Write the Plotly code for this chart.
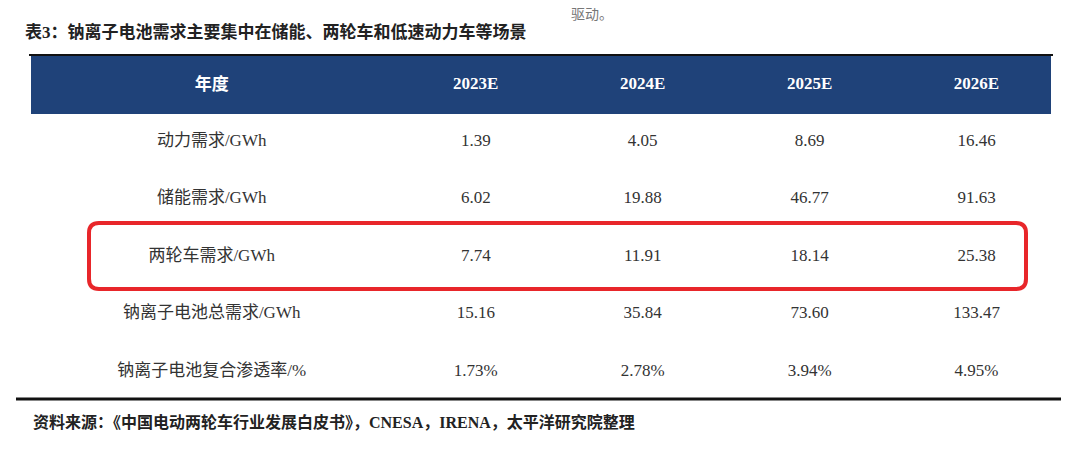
import plotly.graph_objects as go

# page has an 8px body margin, so lay out in a slightly smaller box
OFF = 7
W, H = 1080 - OFF - 1, 451 - OFF - 1

header = ["年度", "2023E", "2024E", "2025E", "2026E"]
row_labels = ["动力需求/GWh", "储能需求/GWh", "两轮车需求/GWh", "钠离子电池总需求/GWh", "钠离子电池复合渗透率/%"]
v2023 = ["1.39", "6.02", "7.74", "15.16", "1.73%"]
v2024 = ["4.05", "19.88", "11.91", "35.84", "2.78%"]
v2025 = ["8.69", "46.77", "18.14", "73.60", "3.94%"]
v2026 = ["16.46", "91.63", "25.38", "133.47", "4.95%"]

NAVY = "#1f4279"
SERIF = "Liberation Serif, Noto Sans CJK SC"
CLEAR = "rgba(0,0,0,0)"


def px_x(v):
    return (v - OFF) / W


def px_y(v):
    return 1 - (v - OFF) / H


fig = go.Figure(go.Table(
    domain=dict(x=[px_x(30), px_x(1059.5)], y=[px_y(413), px_y(65)]),
    columnwidth=[361.5, 167, 167, 167, 167],
    header=dict(
        values=["<b>%s</b>" % h for h in header],
        fill_color=CLEAR, line_color=CLEAR, height=59,
        font=dict(color="white", size=17, family=SERIF),
        align="center",
    ),
    cells=dict(
        values=[row_labels, v2023, v2024, v2025, v2026],
        fill_color=CLEAR, line_color=CLEAR, height=57.5,
        font=dict(color="#333333", size=17, family=SERIF),
        align="center",
    ),
))

# navy header band
fig.add_shape(type="rect", xref="paper", yref="paper", layer="below",
              x0=px_x(30), x1=px_x(1050), y0=px_y(113), y1=px_y(55),
              fillcolor=NAVY, line=dict(width=0))
# top and bottom rules
fig.add_shape(type="line", xref="paper", yref="paper", x0=px_x(28), x1=px_x(1052),
              y0=px_y(54), y1=px_y(54), line=dict(color="#111111", width=2))
fig.add_shape(type="line", xref="paper", yref="paper", x0=px_x(15), x1=px_x(1060),
              y0=px_y(398), y1=px_y(398), line=dict(color="#111111", width=3))

# red highlight around the two-wheeler row
x0, x1, y0, y1, r = 88, 1025, 222, 288, 10
path = (f"M {px_x(x0 + r)} {px_y(y0)} L {px_x(x1 - r)} {px_y(y0)} "
        f"Q {px_x(x1)} {px_y(y0)} {px_x(x1)} {px_y(y0 + r)} L {px_x(x1)} {px_y(y1 - r)} "
        f"Q {px_x(x1)} {px_y(y1)} {px_x(x1 - r)} {px_y(y1)} L {px_x(x0 + r)} {px_y(y1)} "
        f"Q {px_x(x0)} {px_y(y1)} {px_x(x0)} {px_y(y1 - r)} L {px_x(x0)} {px_y(y0 + r)} "
        f"Q {px_x(x0)} {px_y(y0)} {px_x(x0 + r)} {px_y(y0)} Z")
fig.add_shape(type="path", xref="paper", yref="paper", path=path,
              line=dict(color="#e8262a", width=4))

fig.add_annotation(text="<b>表3：钠离子电池需求主要集中在储能、两轮车和低速动力车等场景</b>",
                   x=px_x(22), y=px_y(31), xref="paper", yref="paper",
                   xanchor="left", yanchor="middle", showarrow=False,
                   font=dict(size=17, color="#222222", family=SERIF))
fig.add_annotation(text="驱动。", x=px_x(568), y=px_y(14), xref="paper", yref="paper",
                   xanchor="left", yanchor="middle", showarrow=False,
                   font=dict(size=14, color="#777777", family=SERIF))
fig.add_annotation(text="<b>资料来源：《中国电动两轮车行业发展白皮书》，CNESA，IRENA，太平洋研究院整理</b>",
                   x=px_x(30), y=px_y(421), xref="paper", yref="paper",
                   xanchor="left", yanchor="middle", showarrow=False,
                   font=dict(size=16, color="#222222", family=SERIF))

fig.update_layout(width=W, height=H, margin=dict(l=0, r=0, t=0, b=0),
                  paper_bgcolor="white", plot_bgcolor="white")

fig.write_html("out.html")
